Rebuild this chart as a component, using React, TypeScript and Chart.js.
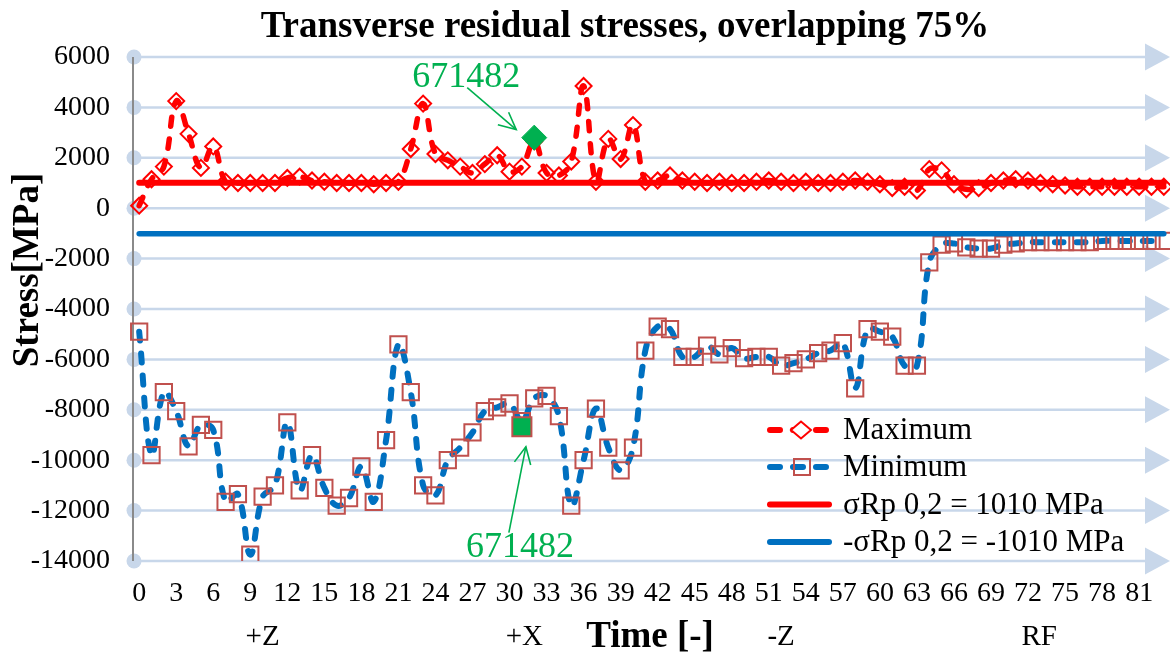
import React, { useEffect, useRef } from 'react';
import { Chart, registerables } from 'chart.js';

Chart.register(...registerables);

// ---------- data ----------
const timeLabels: string[] = Array.from({ length: 84 }, (_, i) => String(i));

const maximumValues: number[] = [
  100, 1150, 1650, 4250, 2950, 1600, 2450, 1050, 1000, 1000,
  1000, 1000, 1200, 1250, 1100, 1050, 1000, 1000, 1000, 950,
  1000, 1050, 2350, 4150, 2150, 1900, 1650, 1400, 1750, 2100,
  1450, 1650, 2650, 1400, 1300, 1850, 4850, 1050, 2750, 1950,
  3300, 1050, 1100, 1300, 1100, 1050, 1000, 1050, 1000, 1000,
  1050, 1100, 1050, 1000, 1050, 1000, 1000, 1050, 1100, 1050,
  950, 800, 850, 700, 1550, 1500, 950, 750, 800, 1000,
  1100, 1150, 1100, 1000, 950, 900, 850, 850, 850, 850,
  850, 850, 850, 850,
];

const minimumValues: number[] = [
  -4900, -9800, -7300, -8050, -9450, -8600, -8800, -11650, -11350, -13750,
  -11450, -11000, -8500, -11200, -9800, -11100, -11800, -11500, -10250, -11650,
  -9200, -5400, -7300, -11000, -11400, -10000, -9500, -8900, -8050, -7900,
  -7750, -8450, -7550, -7450, -8250, -11800, -10000, -7950, -9500, -10400,
  -9500, -5650, -4700, -4800, -5900, -5900, -5450, -5800, -5550, -5950,
  -5900, -5900, -6250, -6150, -6000, -5750, -5650, -5350, -7150, -4800,
  -4900, -5100, -6250, -6250, -2150, -1450, -1400, -1550, -1600, -1600,
  -1450, -1400, -1350, -1350, -1350, -1350, -1350, -1350, -1300, -1300,
  -1300, -1300, -1300, -1300,
];

const yieldLimit = 1010;
const highlightMaxIndex = '32';
const highlightMaxValue = 2800;
const highlightMinIndex = '31';
const highlightMinValue = -8670;
const sampleId = '671482';

const yMin = -14000;
const yMax = 6000;
const yStep = 2000;

const groupLabels = ['+Z', '+X', '-Z', 'RF'];
const groupPositions = [10, 31.2, 52, 72.9];

const legendLabels = ['Maximum', 'Minimum', 'σRp 0,2 = 1010 MPa', '-σRp 0,2 = -1010 MPa'];

const chartTitle = 'Transverse residual stresses, overlapping 75%';
const xTitle = 'Time [-]';
const yTitle = 'Stress[MPa]';

// ---------- styles ----------
const SERIF = "'Liberation Serif', 'Times New Roman', serif";
const RED = '#ff0000';
const BLUE = '#0070c0';
const SQUARE = '#c0504d';
const GREEN = '#00b050';
const GRID = '#c8d7ea';

function drawArrow(ctx: CanvasRenderingContext2D, x0: number, y0: number, x1: number, y1: number) {
  ctx.beginPath();
  ctx.moveTo(x0, y0);
  ctx.lineTo(x1, y1);
  ctx.stroke();
  const ang = Math.atan2(y1 - y0, x1 - x0);
  const len = 19;
  const spread = 0.45;
  ctx.beginPath();
  ctx.moveTo(x1 - len * Math.cos(ang - spread), y1 - len * Math.sin(ang - spread));
  ctx.lineTo(x1, y1);
  ctx.lineTo(x1 - len * Math.cos(ang + spread), y1 - len * Math.sin(ang + spread));
  ctx.stroke();
}

const decorPlugin = {
  id: 'decor',
  beforeDatasetsDraw(chart: any) {
    const { ctx, chartArea, scales } = chart;
    const y = scales.y;
    ctx.save();
    y.ticks.forEach((t: any) => {
      const py = y.getPixelForValue(t.value);
      ctx.strokeStyle = GRID;
      ctx.lineWidth = 2.5;
      ctx.beginPath();
      ctx.moveTo(chartArea.left, py);
      ctx.lineTo(chartArea.right - 24, py);
      ctx.stroke();
      ctx.fillStyle = GRID;
      ctx.beginPath();
      ctx.arc(chartArea.left + 1, py, 7.5, 0, Math.PI * 2);
      ctx.fill();
      ctx.beginPath();
      ctx.moveTo(chartArea.right - 25, py - 13.5);
      ctx.lineTo(chartArea.right, py);
      ctx.lineTo(chartArea.right - 25, py + 13.5);
      ctx.closePath();
      ctx.fill();
    });
    ctx.strokeStyle = '#8a8a8a';
    ctx.lineWidth = 2;
    ctx.beginPath();
    ctx.moveTo(chartArea.left, chartArea.top);
    ctx.lineTo(chartArea.left, chartArea.bottom);
    ctx.stroke();
    ctx.restore();
  },
  afterDraw(chart: any) {
    const { ctx, scales } = chart;
    const x = scales.x;
    const y = scales.y;
    ctx.save();
    ctx.fillStyle = '#000';

    // title
    ctx.font = `bold 37px ${SERIF}`;
    ctx.textAlign = 'center';
    ctx.textBaseline = 'alphabetic';
    ctx.fillText(chartTitle, 625, 37);

    // x axis title
    ctx.textBaseline = 'middle';
    ctx.fillText(xTitle, 650, 637);

    // y axis title
    ctx.save();
    ctx.translate(28, 270);
    ctx.rotate(-Math.PI / 2);
    ctx.fillText(yTitle, 0, 0);
    ctx.restore();

    // group labels
    ctx.font = `29px ${SERIF}`;
    groupLabels.forEach((g, i) => {
      ctx.fillText(g, x.getPixelForValue(groupPositions[i]), 637);
    });

    // annotations
    const dx = x.getPixelForValue(timeLabels.indexOf(highlightMaxIndex));
    const dy = y.getPixelForValue(highlightMaxValue);
    const sx = x.getPixelForValue(timeLabels.indexOf(highlightMinIndex));
    const sy = y.getPixelForValue(highlightMinValue);
    ctx.fillStyle = GREEN;
    ctx.strokeStyle = GREEN;
    ctx.lineWidth = 1.6;
    ctx.font = `36px ${SERIF}`;
    ctx.fillText(sampleId, dx - 68, dy - 60);
    drawArrow(ctx, dx - 67, dy - 50, dx - 18, dy - 8);
    ctx.fillText(sampleId, sx - 2, sy + 121);
    drawArrow(ctx, sx - 13, sy + 106, sx + 4, sy + 20);

    // legend
    const rowsY = [430, 467, 504.5, 542];
    const x0 = 767;
    const x1 = 832;
    ctx.lineCap = 'round';
    ctx.font = `31px ${SERIF}`;
    ctx.textAlign = 'left';
    ctx.textBaseline = 'middle';
    legendLabels.forEach((lab, i) => {
      const ry = rowsY[i];
      const color = i % 2 === 0 ? RED : BLUE;
      ctx.strokeStyle = color;
      ctx.lineWidth = 6;
      if (i < 2) {
        ctx.setLineDash([10, 13]);
        ctx.beginPath();
        ctx.moveTo(x0 + 3, ry);
        ctx.lineTo(x1 - 3, ry);
        ctx.stroke();
        ctx.setLineDash([]);
        ctx.lineWidth = 2;
        if (i === 0) {
          ctx.fillStyle = '#fff';
          ctx.strokeStyle = RED;
          ctx.beginPath();
          ctx.moveTo(801 - 10, ry);
          ctx.lineTo(801, ry - 8.5);
          ctx.lineTo(801 + 10, ry);
          ctx.lineTo(801, ry + 8.5);
          ctx.closePath();
          ctx.fill();
          ctx.stroke();
        } else {
          ctx.strokeStyle = SQUARE;
          ctx.strokeRect(802 - 8, ry - 8, 16, 16);
        }
      } else {
        ctx.beginPath();
        ctx.moveTo(x0 + 3, ry);
        ctx.lineTo(x1 - 3, ry);
        ctx.stroke();
      }
      ctx.fillStyle = '#000';
      ctx.fillText(lab, 843, ry + 1);
    });

    ctx.restore();
  },
};

export default function App() {
  const canvasRef = useRef<HTMLCanvasElement | null>(null);

  useEffect(() => {
    if (!canvasRef.current) return;
    const lastLabel = timeLabels[timeLabels.length - 1];
    const chart = new Chart(canvasRef.current, {
      type: 'line',
      data: {
        labels: timeLabels,
        datasets: [
          {
            label: 'highlight max',
            data: [{ x: highlightMaxIndex, y: highlightMaxValue }] as any,
            showLine: false,
            pointStyle: 'rectRot',
            pointRadius: 12.5,
            pointBackgroundColor: GREEN,
            pointBorderColor: GREEN,
            pointBorderWidth: 1,
            order: 0,
          },
          {
            label: 'highlight min',
            data: [{ x: highlightMinIndex, y: highlightMinValue }] as any,
            showLine: false,
            pointStyle: 'rect',
            pointRadius: 13.5,
            pointBackgroundColor: GREEN,
            pointBorderColor: SQUARE,
            pointBorderWidth: 2,
            order: 0,
          },
          {
            label: legendLabels[2],
            data: [{ x: timeLabels[0], y: yieldLimit }, { x: lastLabel, y: yieldLimit }] as any,
            borderColor: RED,
            borderWidth: 6,
            borderCapStyle: 'round',
            pointRadius: 0,
            tension: 0,
            order: 1,
          },
          {
            label: legendLabels[3],
            data: [{ x: timeLabels[0], y: -yieldLimit }, { x: lastLabel, y: -yieldLimit }] as any,
            borderColor: BLUE,
            borderWidth: 5.5,
            borderCapStyle: 'round',
            pointRadius: 0,
            tension: 0,
            order: 1,
          },
          {
            label: legendLabels[0],
            data: maximumValues,
            borderColor: RED,
            borderWidth: 5.5,
            borderDash: [9, 13],
            borderCapStyle: 'round',
            tension: 0.4,
            pointStyle: 'rectRot',
            pointRadius: 8,
            pointBorderColor: RED,
            pointBackgroundColor: 'rgba(0,0,0,0)',
            pointBorderWidth: 2,
            order: 3,
          },
          {
            label: legendLabels[1],
            data: minimumValues,
            borderColor: BLUE,
            borderWidth: 6,
            borderDash: [9, 13],
            borderCapStyle: 'round',
            tension: 0.4,
            pointStyle: 'rect',
            pointRadius: 11.5,
            pointBorderColor: SQUARE,
            pointBackgroundColor: 'rgba(0,0,0,0)',
            pointBorderWidth: 2,
            order: 2,
          },
        ],
      },
      options: {
        responsive: false,
        animation: false,
        events: [],
        layout: { autoPadding: false, padding: { top: 57, left: 0, right: 0, bottom: 0 } },
        plugins: {
          legend: { display: false },
          title: { display: false },
          tooltip: { enabled: false },
        },
        scales: {
          x: {
            type: 'category',
            offset: true,
            grid: { display: false, drawTicks: false },
            border: { display: false },
            ticks: {
              autoSkip: false,
              maxRotation: 0,
              minRotation: 0,
              padding: 16,
              color: '#000',
              font: { family: SERIF, size: 28 },
              callback: (_v: any, i: number) => (i % 3 === 0 ? timeLabels[i] : ''),
            },
            afterFit: (s: any) => {
              s.height = 94;
              s.paddingLeft = 0;
              s.paddingRight = 0;
            },
          },
          y: {
            min: yMin,
            max: yMax,
            grid: { display: false, drawTicks: false },
            border: { display: false },
            ticks: {
              stepSize: yStep,
              padding: 23,
              color: '#000',
              font: { family: SERIF, size: 28 },
              callback: (v: any) => String(v),
            },
            afterFit: (s: any) => {
              s.width = 133;
              s.paddingTop = 0;
              s.paddingBottom = 0;
            },
          },
        },
      },
      plugins: [decorPlugin],
    });
    return () => chart.destroy();
  }, []);

  return (
    <div style={{ position: 'fixed', left: 0, top: 0, width: 1170, height: 655, background: '#fff' }}>
      <canvas ref={canvasRef} width={1170} height={655} style={{ display: 'block' }} />
    </div>
  );
}
